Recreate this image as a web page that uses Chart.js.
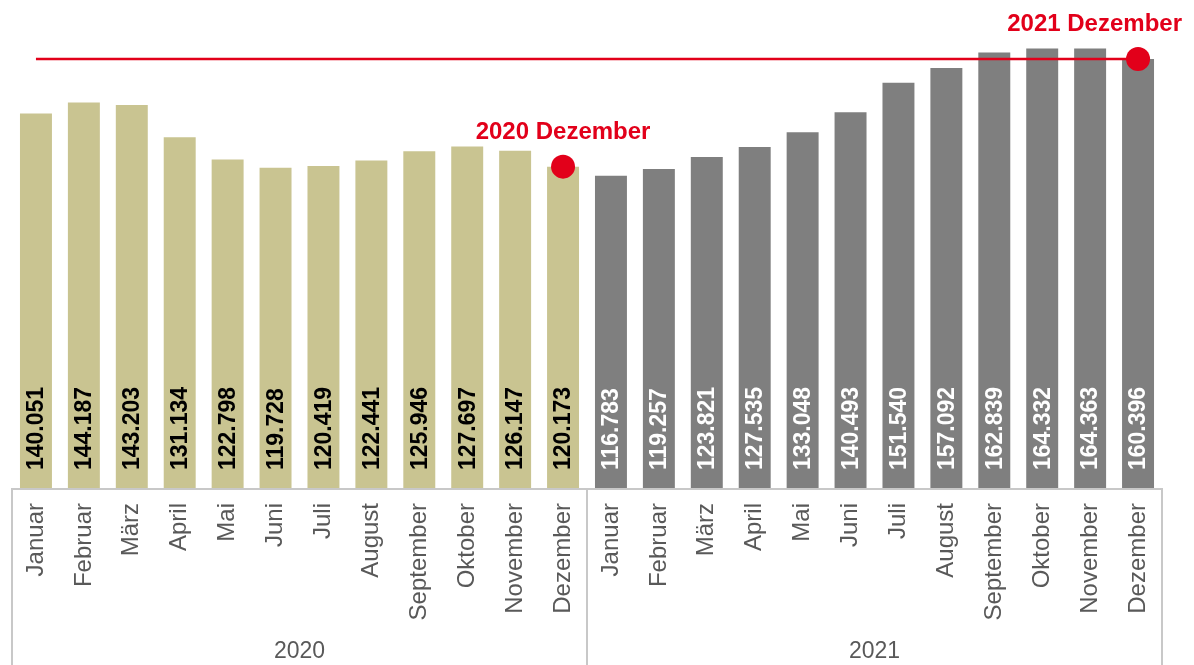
<!DOCTYPE html>
<html>
<head>
<meta charset="utf-8">
<script src="https://cdn.jsdelivr.net/npm/chart.js@4"></script>
<style>
  html, body { margin: 0; padding: 0; background: #fff; }
  #wrap { width: 1194px; height: 665px; }
</style>
</head>
<body>
<div id="wrap"><canvas id="chart"></canvas></div>
<script>
const months = ["Januar", "Februar", "März", "April", "Mai", "Juni", "Juli", "August", "September", "Oktober", "November", "Dezember"];
const years = ["2020", "2021"];
const values2020 = [140051, 144187, 143203, 131134, 122798, 119728, 120419, 122441, 125946, 127697, 126147, 120173];
const values2021 = [116783, 119257, 123821, 127535, 133048, 140493, 151540, 157092, 162839, 164332, 164363, 160396];
const markerNames = ["2020 Dezember", "2021 Dezember"];

const RED = "#e2001a";
const BEIGE = "#c9c491";
const GREY = "#7f7f7f";
const FONT = "'Liberation Sans', Arial, sans-serif";

const labels = years.flatMap(() => months);
const values = values2020.concat(values2021);
const barColors = values.map((v, i) => i < values2020.length ? BEIGE : GREY);
const textColors = values.map((v, i) => i < values2020.length ? "#000" : "#fff");

// red reference line: from first month to the last value (Dez 2021)
const lastIdx = values.length - 1;
const refLine = values.map((v, i) => (i === 0 || i === lastIdx) ? values[lastIdx] : null);

// red markers on both Dezember bars
const markerIdx = [values2020.length - 1, lastIdx];
const markers = values.map((v, i) => markerIdx.includes(i) ? v : null);

const fmt = v => v.toString().replace(/\B(?=(\d{3})+(?!\d))/g, ".");

const extras = {
  id: "extras",
  afterDatasetsDraw(chart) {
    const ctx = chart.ctx;
    const area = chart.chartArea;
    const bars = chart.getDatasetMeta(0).data;

    // values inside bars, rotated
    ctx.save();
    ctx.font = "bold 23px " + FONT;
    ctx.textAlign = "left";
    ctx.textBaseline = "middle";
    bars.forEach((bar, i) => {
      ctx.save();
      ctx.translate(bar.x, area.bottom - 18);
      ctx.rotate(-Math.PI / 2);
      ctx.fillStyle = textColors[i];
      ctx.fillText(fmt(values[i]), 0, 1);
      ctx.restore();
    });
    ctx.restore();

    // marker labels
    const pts = chart.getDatasetMeta(2).data;
    ctx.save();
    ctx.font = "bold 24px " + FONT;
    ctx.fillStyle = RED;
    ctx.textBaseline = "alphabetic";
    ctx.textAlign = "center";
    markerIdx.forEach((idx, k) => {
      const p = pts[idx];
      const w = ctx.measureText(markerNames[k]).width;
      let cx = p.x;
      if (cx + w / 2 > chart.width - 12) cx = chart.width - 12 - w / 2;
      ctx.fillText(markerNames[k], cx, p.y - 28);
    });
    ctx.restore();
  },
  afterDraw(chart) {
    const ctx = chart.ctx;
    const x = chart.scales.x;
    const area = chart.chartArea;
    const step = x.getPixelForValue(1) - x.getPixelForValue(0);
    const left = x.getPixelForValue(0) - step / 2;
    const mid = x.getPixelForValue(values2020.length) - step / 2;
    const right = x.getPixelForValue(lastIdx) + step / 2;
    const bottom = chart.height;

    ctx.save();
    ctx.strokeStyle = "#c8c8c8";
    ctx.lineWidth = 2;
    ctx.beginPath();
    ctx.moveTo(left, area.bottom + 1);
    ctx.lineTo(right, area.bottom + 1);
    [left, mid, right].forEach(px => {
      ctx.moveTo(px, area.bottom);
      ctx.lineTo(px, bottom);
    });
    ctx.stroke();

    // year labels
    ctx.font = "23px " + FONT;
    ctx.fillStyle = "#595959";
    ctx.textAlign = "center";
    ctx.textBaseline = "middle";
    ctx.fillText(years[0], (left + mid) / 2, 652);
    ctx.fillText(years[1], (mid + right) / 2, 652);
    ctx.restore();
  }
};

new Chart(document.getElementById("chart"), {
  type: "bar",
  data: {
    labels: labels,
    datasets: [
      {
        type: "bar",
        data: values,
        backgroundColor: barColors,
        categoryPercentage: 1,
        barPercentage: 0.667,
        order: 3
      },
      {
        type: "line",
        data: refLine,
        borderColor: RED,
        borderWidth: 2.5,
        pointRadius: 0,
        spanGaps: true,
        order: 2
      },
      {
        type: "line",
        data: markers,
        showLine: false,
        pointRadius: 12,
        pointHoverRadius: 12,
        pointBackgroundColor: RED,
        pointBorderWidth: 0,
        order: 1
      }
    ]
  },
  options: {
    responsive: true,
    maintainAspectRatio: false,
    animation: false,
    layout: { padding: { left: 10, right: 32, top: 9, bottom: 0 } },
    plugins: {
      legend: { display: false },
      tooltip: { enabled: false }
    },
    scales: {
      x: {
        grid: { display: false, drawTicks: false },
        border: { display: false },
        ticks: {
          autoSkip: false,
          minRotation: 90,
          maxRotation: 90,
          padding: 15,
          color: "#595959",
          font: { family: FONT, size: 24 }
        },
        afterFit(scale) { scale.height = 177; }
      },
      y: {
        display: false,
        min: 0,
        max: 178000
      }
    }
  },
  plugins: [extras]
});
</script>
</body>
</html>
